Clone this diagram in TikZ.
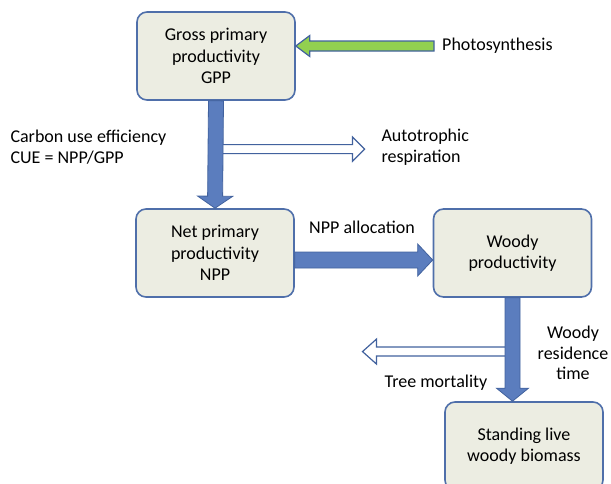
\documentclass[tikz,border=0pt]{standalone}
\usepackage{fontspec}
\setmainfont{Carlito}
\usetikzlibrary{calc}
\definecolor{boxfill}{RGB}{236,237,226}
\definecolor{boxline}{RGB}{79,111,170}
\definecolor{flowblue}{RGB}{91,125,190}
\definecolor{flowline}{RGB}{66,98,158}
\definecolor{leafgreen}{RGB}{146,208,80}

\newcommand{\fatarrow}[6]{%
	\path ($(#3)!#6!(#2)$) coordinate (hb);
	\draw[#1] ($(#2)!#4!-90:(#3)$) -- ($(hb)!#4!90:(#2)$) -- ($(hb)!#5!90:(#2)$) -- (#3)
		-- ($(hb)!#5!-90:(#2)$) -- ($(hb)!#4!-90:(#2)$) -- ($(#2)!#4!90:(#3)$) -- cycle;}

\begin{document}
\begin{tikzpicture}[x=1pt, y=-1pt, font=\fontsize{18}{21.5}\selectfont,
	box/.style={draw=boxline, line width=1.6pt, fill=boxfill, rounded corners=10pt, minimum width=158pt, minimum height=88pt, align=center},
	lbl/.style={font=\fontsize{18}{20.5}\selectfont},
	bluearrow/.style={fill=flowblue, draw=flowline, line width=0.8pt},
	hollowarrow/.style={fill=white, draw=flowline, line width=1.2pt},
	greenarrow/.style={fill=leafgreen, draw=flowline, line width=1.2pt}]
	\clip (0,0) rectangle (611,483);
	\node[box] (gpp) at (216,56) {Gross primary\\productivity\\GPP};
	\node[box] (npp) at (215,253) {Net primary\\productivity\\NPP};
	\node[box] (woody) at (512.5,253) {Woody\\productivity};
	\node[box] (standing) at (524,446) {Standing live\\woody biomass};

	\node[lbl, anchor=west, inner xsep=8pt] (photo) at (434,46) {Photosynthesis};
	\node[lbl, anchor=west, align=left] (cue) at (7,147) {Carbon use efficiency\\CUE = NPP/GPP};
	\node[lbl, anchor=west, align=left] (auto) at (378,147) {Autotrophic\\respiration};
	\node[lbl] (alloc) at (362,227) {NPP allocation};
	\node[lbl, align=center] (residence) at (573,353) {Woody\\residence\\time};
	\node[lbl] (mortality) at (436,383) {Tree mortality};

	\coordinate (photoin) at (gpp.east |- photo.west);
	\fatarrow{greenarrow}{photo.west}{photoin}{5pt}{10.5pt}{14pt}

	\coordinate (respout) at ($(gpp.south)!0.45!(npp.north)$);
	\coordinate (resptip) at ([xshift=149pt]respout);
	\fatarrow{hollowarrow}{respout}{resptip}{4.5pt}{12pt}{12pt}
	\fatarrow{bluearrow}{gpp.south}{npp.north}{7.5pt}{17.5pt}{12pt}

	\coordinate (allocout) at ([yshift=-7pt]npp.east);
	\coordinate (allocin) at (allocout -| woody.west);
	\fatarrow{bluearrow}{allocout}{allocin}{8pt}{16pt}{15pt}

	\coordinate (stemtip) at (woody.south |- standing.north);
	\coordinate (mortout) at ($(woody.south)!0.52!(stemtip)$);
	\coordinate (morttip) at ([xshift=-150pt]mortout);
	\fatarrow{hollowarrow}{mortout}{morttip}{4.5pt}{12.5pt}{14pt}
	\fatarrow{bluearrow}{woody.south}{stemtip}{7.5pt}{16pt}{13pt}
\end{tikzpicture}
\end{document}
